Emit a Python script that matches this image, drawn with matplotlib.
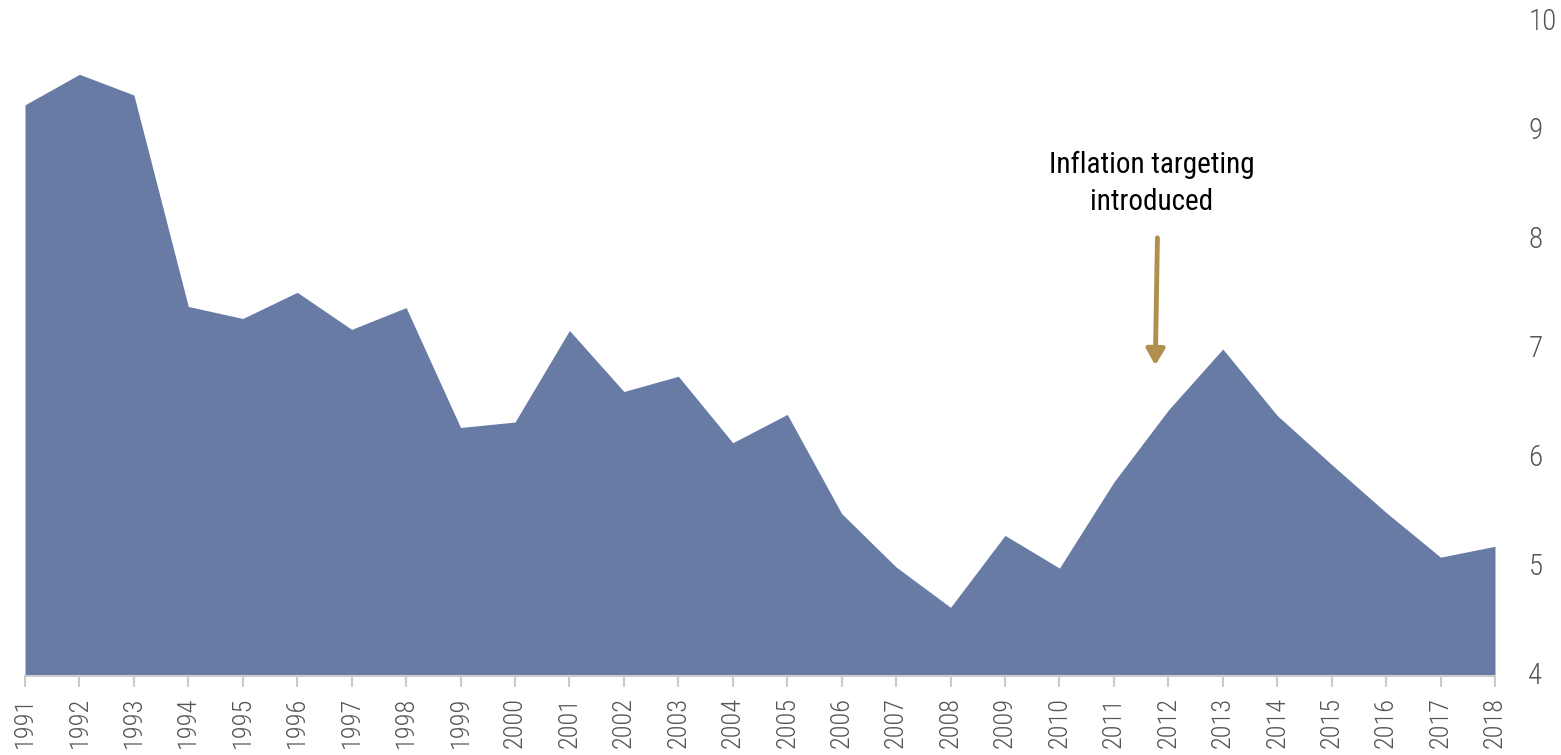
import matplotlib
matplotlib.use("Agg")
import matplotlib.pyplot as plt
from matplotlib import font_manager

years = list(range(1991, 2019))
values = [9.24, 9.52, 9.33, 7.39, 7.28, 7.52, 7.18, 7.38, 6.28, 6.33,
          7.17, 6.61, 6.75, 6.14, 6.40, 5.49, 5.00, 4.63, 5.29, 4.99,
          5.78, 6.44, 7.00, 6.39, 5.94, 5.50, 5.09, 5.19]
y_ticks = [4, 5, 6, 7, 8, 9, 10]

note_text = "Inflation targeting\nintroduced"
note_x = 2011.7
note_y = 8.52
arrow_x = 2011.78
arrow_top = 8.02
arrow_tip = 6.85

FILL = "#687ba5"
ARROW = "#b08f4f"
TICK_GREY = "#555555"

# pick a narrow face if one is installed
names = {f.name for f in font_manager.fontManager.ttflist}
cond = [f for f in font_manager.fontManager.ttflist
        if "ondensed" in f.fname or "Narrow" in f.fname]
if "Roboto Condensed" in names:
    narrow = dict(family=["Roboto Condensed", "DejaVu Sans"])
elif "Liberation Sans Narrow" in names:
    narrow = dict(family=["Liberation Sans Narrow", "DejaVu Sans"])
elif cond:
    narrow = dict(family=[cond[0].name, "DejaVu Sans"], stretch=cond[0].stretch)
else:
    narrow = dict(family=["Roboto", "DejaVu Sans"])

fig = plt.figure(figsize=(15.61, 7.55), dpi=100)
ax = fig.add_axes([25 / 1561, 79 / 755, 1470 / 1561, 654 / 755])

ax.fill_between(years, values, 4, color=FILL, linewidth=0)

ax.set_xlim(1991, 2018)
ax.set_ylim(4, 10)

for s in ["top", "right", "left"]:
    ax.spines[s].set_visible(False)
ax.spines["bottom"].set_color("#cccccc")
ax.spines["bottom"].set_linewidth(1.5)

ax.set_xticks(years)
ax.set_xticklabels([str(y) for y in years], rotation=90, fontsize=19,
                   color=TICK_GREY, fontweight="light", **narrow)
ax.tick_params(axis="x", length=8, width=1.5, color="#cccccc", pad=7)

ax.yaxis.tick_right()
ax.set_yticks(y_ticks)
ax.set_yticklabels([str(v) for v in y_ticks], fontsize=21, color=TICK_GREY,
                   fontweight="light", **narrow)
ax.tick_params(axis="y", length=0, pad=24)
for lab in ax.get_yticklabels():
    lab.set_verticalalignment("center")

ax.text(note_x, note_y, note_text, ha="center", va="center", fontsize=21,
        color="black", linespacing=1.4, **narrow)
ax.annotate("", xy=(arrow_x - 0.02, arrow_tip), xytext=(arrow_x + 0.02, arrow_top),
            arrowprops=dict(arrowstyle="-|>,head_length=0.95,head_width=0.55",
                            color=ARROW, lw=3.5, shrinkA=0, shrinkB=0))

fig.savefig("out.png", dpi=100)
